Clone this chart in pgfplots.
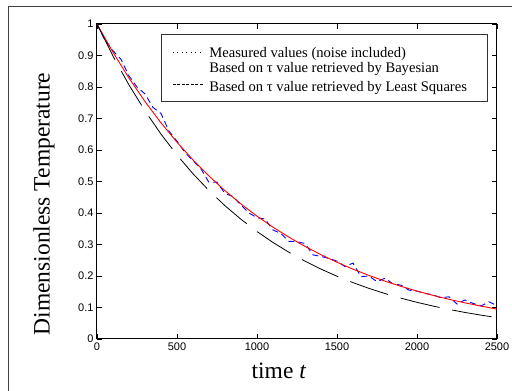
\documentclass[border=0pt]{standalone}
\usepackage{pgfplots}
\pgfplotsset{compat=1.18}
\usepackage{fontspec}
\setmainfont{Liberation Serif}
\newfontfamily\arialfont{Liberation Sans}

\begin{document}
\begin{tikzpicture}
\useasboundingbox (-97pt,-52pt) rectangle (415pt,339pt);
\draw[black!75, line width=1pt] (-88pt,-80pt) -- (-88pt,332pt) -- (440pt,332pt);
\begin{axis}[
  at={(0pt,0pt)}, anchor=south west,
  scale only axis, width=400pt, height=315pt,
  xmin=0, xmax=2500, ymin=0, ymax=1,
  xtick={0,500,1000,1500,2000,2500},
  ytick={0,0.1,0.2,0.3,0.4,0.5,0.6,0.7,0.8,0.9,1},
  scaled x ticks=false,
  /pgf/number format/1000 sep={},
  /pgf/number format/assume math mode=true,
  ticklabel style={font=\arialfont\fontsize{11}{13}\selectfont},
  tick align=inside, tick pos=both,
  major tick length=5pt,
  every tick/.style={black, line width=0.8pt},
  axis line style={line width=1pt},
  every axis y label/.style={at={(rel axis cs:0,0.4286)}, xshift=-53pt, rotate=90, anchor=center},
  every axis x label/.style={at={(rel axis cs:0.455,0)}, anchor=base, yshift=-39pt},
  xlabel={time \textit{t}},
  ylabel={Dimensionless Temperature},
  label style={font=\fontsize{23.5}{26}\selectfont},
  legend cell align=left,
  legend style={at={(rel axis cs:0.16,0.9683)}, anchor=north west,
    draw=black!80, line width=0.9pt, inner xsep=11pt, inner ysep=8.5pt,
    font=\fontsize{14.6}{17}\selectfont, row sep=3.5pt, column sep=5pt,
    nodes={inner sep=0pt}},
]
\addplot[blue, line width=0.9pt, dash pattern=on 6pt off 4pt, forget plot] coordinates {
(0,1.000) (50,0.948) (100,0.915) (150,0.888) (200,0.835) (250,0.800) (300,0.778)
(350,0.735) (400,0.716) (450,0.660) (500,0.628) (550,0.592) (600,0.566) (650,0.540)
(700,0.497) (750,0.498) (800,0.462) (850,0.452) (900,0.425) (950,0.400) (1000,0.385)
(1050,0.381) (1100,0.346) (1150,0.335) (1200,0.310) (1250,0.309) (1300,0.303)
(1350,0.267) (1400,0.262) (1450,0.256) (1500,0.247) (1550,0.230) (1600,0.241)
(1650,0.198) (1700,0.200) (1750,0.182) (1800,0.193) (1850,0.175) (1900,0.171)
(1950,0.155) (2000,0.152) (2050,0.145) (2100,0.140) (2150,0.131) (2200,0.134)
(2250,0.111) (2300,0.124) (2350,0.113) (2400,0.105) (2450,0.118) (2500,0.106)
};
\addplot[red, line width=0.9pt, forget plot] coordinates {
(0,1.0000) (100,0.9101) (200,0.8283) (300,0.7539) (400,0.6862) (500,0.6245)
(600,0.5684) (700,0.5173) (800,0.4708) (900,0.4285) (1000,0.3900) (1100,0.3550)
(1200,0.3231) (1300,0.2940) (1400,0.2676) (1500,0.2436) (1600,0.2217) (1700,0.2018)
(1800,0.1836) (1900,0.1671) (2000,0.1521) (2100,0.1384) (2200,0.1260) (2300,0.1147)
(2400,0.1044) (2500,0.0950)
};
\addplot[black, line width=0.8pt, dash pattern=on 40pt off 13pt, forget plot] coordinates {
(0,1.0000) (100,0.8981) (200,0.8065) (300,0.7243) (400,0.6505) (500,0.5841)
(600,0.5246) (700,0.4711) (800,0.4231) (900,0.3800) (1000,0.3412) (1100,0.3064)
(1200,0.2752) (1300,0.2471) (1400,0.2219) (1500,0.1993) (1600,0.1790) (1700,0.1607)
(1800,0.1443) (1900,0.1296) (2000,0.1164) (2100,0.1046) (2200,0.0939) (2300,0.0843)
(2400,0.0757) (2500,0.0680)
};
\addlegendimage{legend image code/.code={\path[draw=none,fill=none] (0pt,-3.1pt) rectangle (31pt,10.1pt);\draw[black, line width=0.9pt, dash pattern=on 0.9pt off 3.6pt] (0pt,0.4pt) -- (31pt,0.4pt);}}
\addlegendentry{Measured values (noise included)}
\addlegendimage{empty legend}
\addlegendentry{Based on τ value retrieved by Bayesian}
\addlegendimage{legend image code/.code={\path[draw=none,fill=none] (0pt,-3.1pt) rectangle (31pt,10.1pt);\draw[black, line width=0.7pt, dash pattern=on 3pt off 1.5pt] (0pt,3.6pt) -- (31pt,3.6pt);}}
\addlegendentry{Based on τ value retrieved by Least Squares\rule{9pt}{0pt}}
\end{axis}
\end{tikzpicture}
\end{document}
